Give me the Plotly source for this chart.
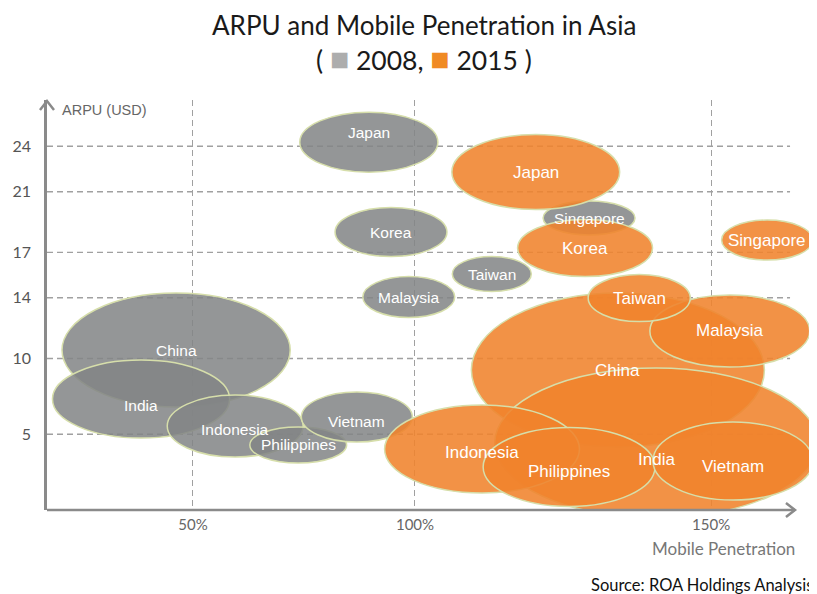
import plotly.graph_objects as go

# ---- data ----
countries = ["China", "India", "Indonesia", "Philippines", "Vietnam",
             "Japan", "Korea", "Malaysia", "Taiwan", "Singapore"]

# 2008: mobile penetration (axis units), ARPU (USD), bubble extent
pen_2008 = [46.2, 38.3, 59.5, 73.7, 86.9, 89.6, 94.6, 98.6, 117.3, 139.2]
arpu_2008 = [10.55, 7.32, 5.54, 4.29, 6.13, 24.27, 18.34, 14.05, 15.57, 19.26]
w_2008 = [51.4, 39.9, 30.6, 21.8, 25.0, 31.1, 25.2, 20.7, 17.8, 20.7]
h_2008 = [7.52, 5.15, 4.09, 2.37, 3.30, 3.96, 3.23, 2.70, 2.31, 2.24]

# 2015
pen_2015 = [145.7, 154.3, 115.1, 134.7, 171.6, 127.2, 138.3, 170.9, 150.5, 179.3]
arpu_2015 = [9.23, 4.42, 4.02, 2.84, 3.23, 22.30, 17.28, 11.81, 13.98, 17.81]
w_2015 = [66.0, 72.7, 43.9, 38.7, 36.0, 37.8, 30.4, 36.0, 23.0, 20.5]
h_2015 = [10.16, 9.89, 5.80, 5.21, 5.15, 4.95, 3.76, 4.75, 3.10, 2.64]

y_ticks = [5, 10, 14, 17, 21, 24]
x_tick_vals = [50, 100, 166.7]
x_tick_text = ["50%", "100%", "150%"]

# label nudges in pixels (styling only)
shift_2008 = {"Japan": 10, "India": -6, "Indonesia": -3, "Vietnam": -4}
shift_2015 = {"India": -16, "Indonesia": -3, "Philippines": -5, "Vietnam": -5}

GRAY = "rgba(130,133,134,0.86)"
ORANGE = "rgba(240,131,44,0.88)"
EDGE = "rgba(214,222,170,1)"
AXC = "#8a8a8a"
GRID = "#a0a0a0"

# plot area runs to the right page edge so bubbles are not clipped;
# the drawn x axis stops short of it (at the arrow)
X_RANGE = [17.12, 190.54]
Y_RANGE = [0, 27.05]
AXIS_END = 0.9714   # paper x of the arrow tip
GRID_END = 0.965    # paper x where the dashed rows stop

fig = go.Figure()
# invisible trace to set up the axes
fig.add_trace(go.Scatter(x=X_RANGE, y=Y_RANGE, mode="markers",
                         marker=dict(opacity=0), hoverinfo="skip", showlegend=False))

shapes = []
annotations = []

# horizontal dashed grid rows
for v in y_ticks:
    shapes.append(dict(type="line", xref="paper", yref="y", layer="below",
                       x0=0, x1=GRID_END, y0=v, y1=v,
                       line=dict(color=GRID, width=1.4, dash="6px,4px")))


def add_bubbles(xs, ys, ws, hs, fill, shifts, size):
    for name, x, y, w, h in zip(countries, xs, ys, ws, hs):
        shapes.append(dict(type="circle", xref="x", yref="y", layer="between",
                           x0=x - w / 2, x1=x + w / 2, y0=y - h / 2, y1=y + h / 2,
                           fillcolor=fill, line=dict(color=EDGE, width=1.5)))
        annotations.append(dict(x=x, y=y, xref="x", yref="y", text=name, showarrow=False,
                                yshift=shifts.get(name, 0),
                                font=dict(family="Liberation Sans, Arial", size=size, color="white")))


add_bubbles(pen_2008, arpu_2008, w_2008, h_2008, GRAY, shift_2008, 15.5)
add_bubbles(pen_2015, arpu_2015, w_2015, h_2015, ORANGE, shift_2015, 17)

# x axis line and arrow heads
shapes.append(dict(type="line", xref="paper", yref="paper", x0=0, x1=AXIS_END, y0=0, y1=0,
                   line=dict(color=AXC, width=2.5)))
shapes.append(dict(type="path", xref="paper", yref="paper",
                   path="M -0.0091,0.9756 L 0,0.9976 L 0.0091,0.9756",
                   line=dict(color=AXC, width=2.5)))
shapes.append(dict(type="path", xref="paper", yref="paper",
                   path=f"M {AXIS_END - 0.0117},0.017 L {AXIS_END},0 L {AXIS_END - 0.0117},-0.017",
                   line=dict(color=AXC, width=2.5)))

# titles and captions
sq = "<span style='color:{};font-size:32px'>■</span>"
annotations += [
    dict(x=0.4896, y=1.183, xref="paper", yref="paper", showarrow=False,
         xanchor="center", yanchor="middle",
         text="ARPU and Mobile Penetration in Asia",
         font=dict(family="Lato, Open Sans", size=26, color="#1a1a1a")),
    dict(x=0.4896, y=1.104, xref="paper", yref="paper", showarrow=False,
         xanchor="center", yanchor="middle",
         text="( " + sq.format("#adadad") + " 2008, " + sq.format("#f08a24") + " 2015 )",
         font=dict(family="Lato, Open Sans", size=26.5, color="#1a1a1a")),
    dict(x=0.0169, y=0.976, xref="paper", yref="paper", showarrow=False,
         xanchor="left", yanchor="middle", text="ARPU (USD)",
         font=dict(family="Liberation Sans, Arial", size=14.5, color="#666")),
    dict(x=0.879, y=-0.093, xref="paper", yref="paper", showarrow=False,
         xanchor="center", yanchor="middle", text="Mobile Penetration",
         font=dict(family="Lato, Open Sans", size=17, color="#777")),
    dict(x=0.7039, y=-0.183, xref="paper", yref="paper", showarrow=False,
         xanchor="left", yanchor="middle", text="Source: ROA Holdings Analysis",
         font=dict(family="Lato, Open Sans", size=16.5, color="#111")),
]

# the page body adds an 8px offset, so the figure is 8px smaller and margins shifted
fig.update_layout(
    width=809, height=586,
    margin=dict(l=39, r=0, t=92, b=84),
    paper_bgcolor="white", plot_bgcolor="white",
    shapes=shapes, annotations=annotations,
    showlegend=False,
    xaxis=dict(range=X_RANGE, tickvals=x_tick_vals, ticktext=x_tick_text,
               showgrid=True, gridcolor=GRID, griddash="6px,4px", gridwidth=1.4,
               showline=False, zeroline=False,
               ticks="", ticklabelstandoff=4, automargin=False,
               tickfont=dict(family="Lato, Open Sans", size=15, color="#666")),
    yaxis=dict(range=Y_RANGE, tickvals=y_ticks,
               showgrid=False,
               showline=True, linecolor=AXC, linewidth=2.5, zeroline=False,
               ticks="", ticklabelstandoff=10, automargin=False,
               tickfont=dict(family="Lato, Open Sans", size=16, color="#555")),
)

fig.write_html("out.html")
